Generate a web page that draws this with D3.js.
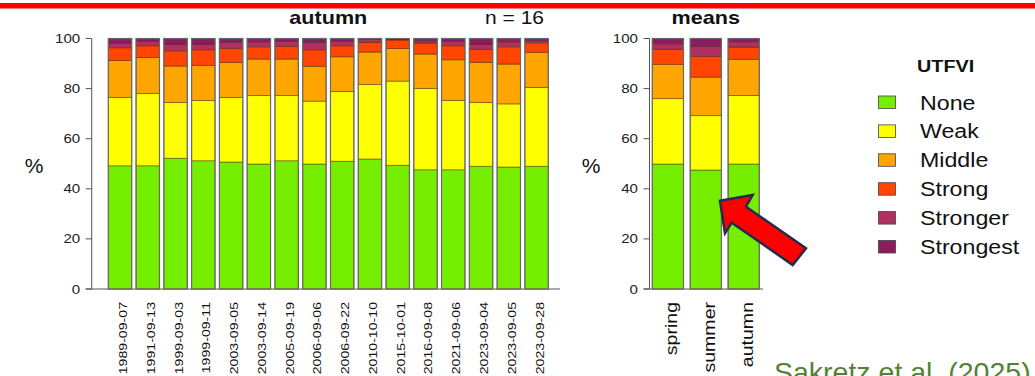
<!DOCTYPE html>
<html>
<head>
<meta charset="utf-8">
<script src="https://cdnjs.cloudflare.com/ajax/libs/d3/7.8.5/d3.min.js"></script>
<style>
  body { margin: 0; background: #ffffff; }
  svg { display: block; }
  text { font-family: "Liberation Sans", Arial, sans-serif; fill: #111; }
</style>
</head>
<body>
<div id="chart"></div>
<script>
// UTFVI classes, shares in % per scene
const classes = ["None", "Weak", "Middle", "Strong", "Stronger", "Strongest"];
const classColors = ["#76ee00", "#ffff00", "#ffa500", "#ff4500", "#b03060", "#8b1c62"];

const dates = ["1989-09-07", "1991-09-13", "1999-09-03", "1999-09-11", "2003-09-05", "2003-09-14",
               "2005-09-19", "2006-09-06", "2006-09-22", "2010-10-10", "2015-10-01", "2016-09-08",
               "2021-09-06", "2023-09-04", "2023-09-05", "2023-09-28"];
const noneVals      = [49.2, 49.2, 52.2, 51.2, 50.7, 49.9, 51.2, 49.9, 51.0, 51.9, 49.4, 47.6, 47.6, 49.0, 48.7, 49.0];
const weakVals      = [27.3, 28.8, 22.3, 24.1, 25.8, 27.3, 26.0, 25.1, 27.8, 29.7, 33.6, 32.5, 27.7, 25.5, 25.2, 31.5];
const middleVals    = [14.7, 14.4, 14.5, 14.0, 13.9, 14.6, 14.6, 13.9, 13.9, 13.0, 13.0, 13.7, 16.2, 16.0, 15.9, 14.0];
const strongVals    = [ 5.1,  4.7,  6.1,  6.2,  5.7,  4.9,  5.1,  6.6,  4.4,  3.9,  3.4,  4.4,  5.6,  5.2,  6.9,  3.8];
const strongerVals  = [ 1.8,  1.8,  2.7,  2.3,  2.4,  2.0,  2.0,  3.0,  1.8,  1.1,  0.4,  0.9,  1.8,  2.1,  2.0,  0.8];
const strongestVals = [ 1.9,  1.1,  2.2,  2.2,  1.5,  1.3,  1.1,  1.5,  1.1,  0.4,  0.2,  0.9,  1.1,  2.2,  1.3,  0.9];

const seasons = ["spring", "summer", "autumn"];
const meanNone      = [49.9, 47.5, 49.9];
const meanWeak      = [26.1, 21.7, 27.3];
const meanMiddle    = [13.7, 15.4, 14.5];
const meanStrong    = [ 6.0,  8.3,  4.9];
const meanStronger  = [ 2.2,  4.0,  2.1];
const meanStrongest = [ 2.1,  3.1,  1.3];

const yTicks = [0, 20, 40, 60, 80, 100];

const W = 1035, H = 376;
const STRETCH = 1.2;   // R text in the figure is drawn wide

const svg = d3.select("#chart").append("svg")
    .attr("width", W)
    .attr("height", H);

function toRows(cats, cols) {
    return cats.map(function(c, i) {
        let row = {cat: c};
        classes.forEach(function(k, j) { row[k] = cols[j][i]; });
        return row;
    });
}

function wideText(g, x, y, str, size, opts) {
    opts = opts || {};
    let rot = opts.rotate ? " rotate(-90)" : "";
    return g.append("text")
        .attr("transform", "translate(" + x + "," + y + ")" + rot + " scale(" + (opts.sx || STRETCH) + ",1)")
        .attr("text-anchor", opts.anchor || "start")
        .attr("dy", opts.dy || 0)
        .attr("font-size", size)
        .attr("font-weight", opts.bold ? "bold" : "normal")
        .text(str);
}

class StackPanel {
    constructor(rows, cfg) {
        this.rows = rows;
        this.cfg = cfg;
        this.g = svg.append("g");
        this.x = d3.scaleBand()
            .domain(rows.map(function(d) { return d.cat; }))
            .range(cfg.xRange)
            .paddingInner(cfg.pad)
            .paddingOuter(0);
        this.y = d3.scaleLinear().domain([0, 100]).range([289, 38.5]);
    }

    draw() {
        let that = this, cfg = this.cfg;
        let series = d3.stack().keys(classes)(this.rows);

        // axis lines
        this.g.append("line")
            .attr("x1", cfg.axisX - 6).attr("x2", cfg.baseEnd)
            .attr("y1", this.y(0)).attr("y2", this.y(0))
            .attr("stroke", "#555").attr("stroke-width", 1);
        this.g.append("line")
            .attr("x1", cfg.axisX).attr("x2", cfg.axisX)
            .attr("y1", this.y(0)).attr("y2", this.y(100))
            .attr("stroke", "#555").attr("stroke-width", 1);

        yTicks.forEach(function(t) {
            that.g.append("line")
                .attr("x1", cfg.axisX - 6).attr("x2", cfg.axisX)
                .attr("y1", that.y(t)).attr("y2", that.y(t))
                .attr("stroke", "#555");
            wideText(that.g, cfg.axisX - 11.5, that.y(t), t, 12.6, {anchor: "end", dy: "0.36em"})
                .style("fill", "#222");
        });

        // stacked segments
        this.g.selectAll(".layer").data(series).enter()
            .append("g").attr("class", "layer")
            .attr("fill", function(d, i) { return classColors[i]; })
            .selectAll("rect").data(function(d) { return d; }).enter()
            .append("rect")
            .attr("x", function(d) { return that.x(d.data.cat); })
            .attr("width", this.x.bandwidth())
            .attr("y", function(d) { return that.y(d[1]); })
            .attr("height", function(d) { return that.y(d[0]) - that.y(d[1]); })
            .attr("stroke", "rgba(60,30,0,0.55)")
            .attr("stroke-width", 0.8);

        // bar outlines
        this.g.selectAll(".outline").data(this.rows).enter()
            .append("rect").attr("class", "outline")
            .attr("x", function(d) { return that.x(d.cat); })
            .attr("width", this.x.bandwidth())
            .attr("y", this.y(100))
            .attr("height", this.y(0) - this.y(100))
            .attr("fill", "none")
            .attr("stroke", "#6a6a6a")
            .attr("stroke-width", 1.2);

        // category labels
        this.rows.forEach(function(d) {
            let cx = that.x(d.cat) + that.x.bandwidth() / 2;
            wideText(that.g, cx, 302, d.cat, cfg.labelSize, {rotate: true, anchor: "end", dy: cfg.labelDy, sx: cfg.labelSx});
        });

        let mid = (cfg.xRange[0] + cfg.xRange[1]) / 2;
        wideText(this.g, mid, 24, cfg.title, 18, {anchor: "middle", bold: true});
        wideText(this.g, cfg.pctX, 173, "%", 21, {anchor: "middle", sx: 1});
    }
}

// top red rule
svg.append("rect").attr("x", 0).attr("y", 3).attr("width", W).attr("height", 5.5).attr("fill", "#ff0000");

let scenes = new StackPanel(
    toRows(dates, [noneVals, weakVals, middleVals, strongVals, strongerVals, strongestVals]),
    {xRange: [108.3, 548.3], pad: 0.157, axisX: 91.7, baseEnd: 560, title: "autumn",
     pctX: 34, labelSize: 11.6, labelDy: "0.6em", labelSx: 1.22});
scenes.draw();
wideText(svg, 544, 24, "n = 16", 17.5, {anchor: "end"});

let means = new StackPanel(
    toRows(seasons, [meanNone, meanWeak, meanMiddle, meanStrong, meanStronger, meanStrongest]),
    {xRange: [652.3, 759.3], pad: 0.177, axisX: 649.5, baseEnd: 763, title: "means",
     pctX: 591, labelSize: 17, labelDy: "0.52em", labelSx: 1.15});
means.draw();

// legend
let leg = svg.append("g");
wideText(leg, 917, 72, "UTFVI", 16.5, {bold: true, sx: 1.2});
classes.forEach(function(c, i) {
    let yy = 96 + i * 28.9;
    leg.append("rect")
        .attr("x", 878.5).attr("y", yy)
        .attr("width", 17).attr("height", 12.5)
        .attr("fill", classColors[i])
        .attr("stroke", "#444").attr("stroke-width", 0.8);
    wideText(leg, 920, yy + 13.5, c, 20, {sx: 1.16});
});

// red arrow pointing at the summer bar
svg.append("polygon")
    .attr("points", [[720, 200.7], [752.7, 195], [746, 206.7], [806, 248.3],
                     [792.7, 265], [731.7, 222.7], [725, 233.3]].map(function(p) { return p.join(","); }).join(" "))
    .attr("fill", "#ff0000")
    .attr("stroke", "#1f2d4e")
    .attr("stroke-width", 2.5)
    .attr("stroke-linejoin", "miter");

// source note, cut by the bottom edge as in the slide
svg.append("text")
    .attr("x", 774).attr("y", 382)
    .attr("font-family", "Lato, 'Open Sans', sans-serif")
    .attr("font-size", 28.5)
    .style("fill", "#548235")
    .text("Sakretz et al. (2025)");
</script>
</body>
</html>
